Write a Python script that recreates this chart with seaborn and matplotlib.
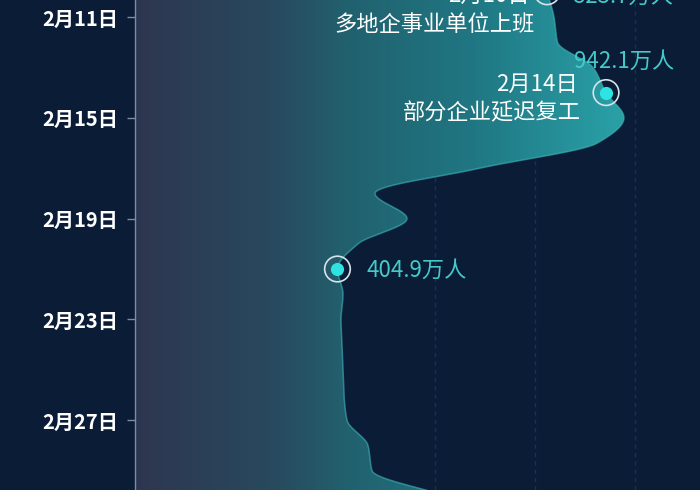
import numpy as np
import seaborn as sns
import matplotlib.pyplot as plt
from matplotlib.colors import LinearSegmentedColormap

# daily values (万人)
days = [10, 11, 12, 13, 14, 15, 16, 17, 18, 19, 20, 21, 22, 23, 24, 25, 26, 27, 28, 29, 30]
values = [824, 838, 845, 916, 942.1, 978, 925, 690, 480, 544, 446, 404.9,
          416, 412, 414, 416, 418, 424, 466, 474, 620]

tick_days = [11, 15, 19, 23, 27]
tick_labels = ["2月11日", "2月15日", "2月19日", "2月23日", "2月27日"]

mark_days = [10, 14, 21]
mark_values = [824, 942.1, 404.9]
mark_dates = ["2月10日", "2月14日", None]
mark_events = ["多地企事业单位上班", "部分企业延迟复工", None]
mark_labels = ["823.7万人", "942.1万人", "404.9万人"]

BG = "#0a1c36"
TEAL_TXT = "#46c9c9"


def smooth(t, v, n=30):
    # monotone cubic (pchip style) curve through the daily points
    t = np.asarray(t, float)
    v = np.asarray(v, float)
    h = np.diff(t)
    d = np.diff(v) / h
    m = np.zeros_like(v)
    for i in range(1, len(v) - 1):
        if d[i - 1] * d[i] > 0:
            m[i] = 2 * d[i - 1] * d[i] / (d[i - 1] + d[i])
    m[0], m[-1] = d[0], d[-1]
    ts, vs = [], []
    for i in range(len(t) - 1):
        s = np.linspace(0, 1, n, endpoint=False)
        h00 = 2 * s ** 3 - 3 * s ** 2 + 1
        h10 = s ** 3 - 2 * s ** 2 + s
        h01 = -2 * s ** 3 + 3 * s ** 2
        h11 = s ** 3 - s ** 2
        vs.append(h00 * v[i] + h10 * h[i] * m[i] + h01 * v[i + 1] + h11 * h[i] * m[i + 1])
        ts.append(t[i] + h[i] * s)
    ts.append([t[-1]])
    vs.append([v[-1]])
    return np.concatenate(ts), np.concatenate(vs)


sns.set_theme(style="dark", rc={"axes.facecolor": BG, "figure.facecolor": BG})
plt.rcParams["font.family"] = ["Noto Sans CJK SC", "DejaVu Sans"]

fig = plt.figure(figsize=(7, 4.9), dpi=100)
ax = fig.add_axes([135 / 700, 0, 1 - 135 / 700, 1])

y_top = 11 - 17 / 25.2
y_bot = 11 + 473 / 25.2
x_max = (700 - 135) * 2

# dashed grid
for g in [200, 400, 600, 800, 1000]:
    ax.axvline(g, color="#1c3050", lw=1, ls=(0, (3, 3)), zorder=1)

sd, sv = smooth(days, values)
poly = ax.fill_betweenx(sd, 0, sv, color="none", lw=0)

cmap = LinearSegmentedColormap.from_list(
    "fill", [(0, "#2e3650"), (0.25, "#284a5f"), (0.37, "#22606e"),
             (0.6, "#1f7783"), (0.86, "#2aa0a6"), (1, "#30b0b4")])
grad = np.linspace(0, 1, 256).reshape(1, -1)
im = ax.imshow(grad, extent=[0, x_max, y_bot, y_top], aspect="auto", cmap=cmap, zorder=2)
im.set_clip_path(poly.get_paths()[0], transform=ax.transData)

sns.lineplot(x=sv, y=sd, sort=False, estimator=None, orient="y",
             color="#3fb8bc", lw=1.1, alpha=0.6, ax=ax, zorder=3)

sns.scatterplot(x=mark_values, y=mark_days, s=340, facecolor="none", edgecolor="#d8e2ea",
                linewidth=1.2, ax=ax, zorder=4)
sns.scatterplot(x=mark_values, y=mark_days, s=90, color="#2fe3e3", linewidth=0, ax=ax, zorder=5)

px = 2.0        # value per pixel
py = 1 / 25.2   # day per pixel
fs = 16

# 2月10日
d, v = mark_days[0], mark_values[0]
ax.text(v - 17 * px, d + 4 * py, mark_dates[0], color="white", fontsize=fs, ha="right", va="center", zorder=6)
ax.text(v - 12 * px, d + 33 * py, mark_events[0], color="white", fontsize=fs, ha="right", va="center", zorder=6)
ax.text(v + 26 * px, d + 4 * py, mark_labels[0], color=TEAL_TXT, fontsize=fs, ha="left", va="center", zorder=6)
# 2月14日
d, v = mark_days[1], mark_values[1]
ax.text(v - 28 * px, d - 8 * py, mark_dates[1], color="white", fontsize=fs, ha="right", va="center", zorder=6)
ax.text(v - 25 * px, d + 20 * py, mark_events[1], color="white", fontsize=fs, ha="right", va="center", zorder=6)
ax.text(v - 32 * px, d - 31 * py, mark_labels[1], color=TEAL_TXT, fontsize=fs, ha="left", va="center", zorder=6)
# 404.9
d, v = mark_days[2], mark_values[2]
ax.text(v + 29 * px, d + 1 * py, mark_labels[2], color=TEAL_TXT, fontsize=fs, ha="left", va="center", zorder=6)

ax.set_xlim(0, x_max)
ax.set_ylim(y_bot, y_top)
ax.set_yticks(tick_days)
ax.set_yticklabels(tick_labels, color="white", fontsize=14.5, fontweight="bold")
ax.set_xticks([])
ax.tick_params(axis="y", length=6, width=1, color="#7f8ca0", pad=6, left=True)
for s in ["top", "right", "bottom"]:
    ax.spines[s].set_visible(False)
ax.spines["left"].set_color("#7f8ca0")
ax.spines["left"].set_linewidth(1)
ax.grid(False)
ax.set_xlabel("")
ax.set_ylabel("")

fig.savefig("out.png", dpi=100, facecolor=BG)
